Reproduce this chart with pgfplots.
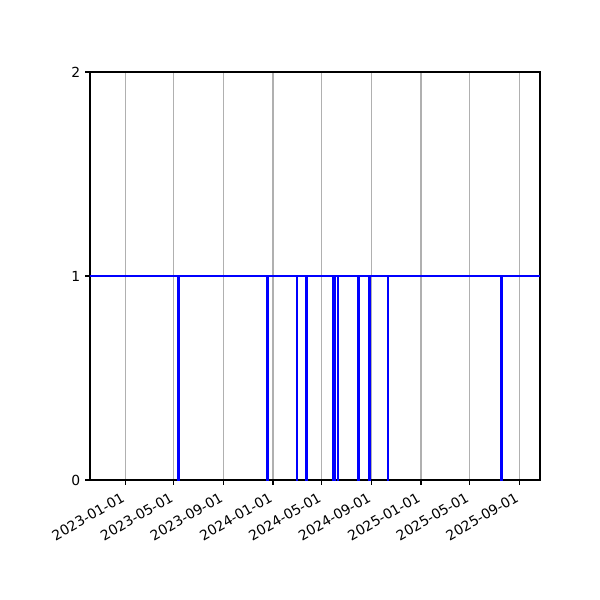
\documentclass[border=0pt]{standalone}
\usepackage{fontspec}
\setmainfont{DejaVu Sans}
\usepackage{pgfplots}
\pgfplotsset{compat=1.18}
\begin{document}
\begin{tikzpicture}
\path[use as bounding box] (-64.8pt,-86.4pt) rectangle (367.2pt,345.6pt);
\begin{axis}[
  at={(0,0)}, anchor=south west,
  scale only axis,
  width=324pt, height=293.76pt,
  xmin=-87.3, xmax=1025.2,
  ymin=0, ymax=2,
  ytick={0,1,2},
  xtick={0,120,243,365,486,609,731,851,974},
  xticklabels={2023-01-01,2023-05-01,2023-09-01,2024-01-01,2024-05-01,2024-09-01,2025-01-01,2025-05-01,2025-09-01},
  xticklabel style={rotate=30, anchor=north east, xshift=-2pt, yshift=1pt},
  xmajorgrids,
  major grid style={color=black!31, line width=0.8pt},
  axis line style={line width=0.8pt},
  tick style={black, line width=0.8pt},
  tick align=outside,
  major tick length=3.5pt,
  xtick pos=bottom, ytick pos=left,
  ticklabel style={font=\fontsize{10}{12}\selectfont},
  /pgf/number format/assume math mode=true,
  clip=true,
]
\addplot[blue, line width=1.5pt, line join=miter] coordinates {
(-90,1) (130.5,1) (130.5,0) (131.5,0) (131.5,1)
(350.5,1) (350.5,0) (351.5,0) (351.5,1)
(423.5,1) (423.5,0) (424.5,0) (424.5,1)
(447.5,1) (447.5,0) (448.5,0) (448.5,1)
(514.5,1) (514.5,0) (517.5,0) (517.5,1)
(525.5,1) (525.5,0) (526.5,0) (526.5,1)
(576.5,1) (576.5,0) (577.5,0) (577.5,1)
(603.5,1) (603.5,0) (604.5,0) (604.5,1)
(648.5,1) (648.5,0) (649.5,0) (649.5,1)
(929.5,1) (929.5,0) (930.5,0) (930.5,1)
(1030,1)
};
\end{axis}
\end{tikzpicture}
\end{document}
